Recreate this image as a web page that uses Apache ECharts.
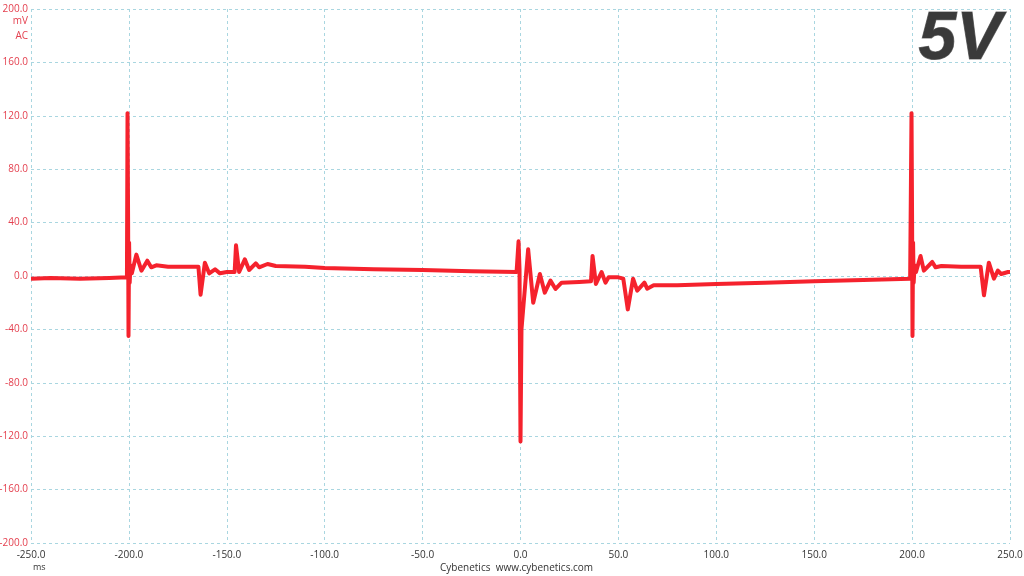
<!DOCTYPE html>
<html><head><meta charset="utf-8">
<script src="https://cdn.jsdelivr.net/npm/echarts@6/dist/echarts.min.js"></script>
<style>html,body{margin:0;padding:0;background:#fff}#c{width:1024px;height:576px}</style>
</head><body><div id="c"></div>
<script>
const timeMs = [-250,-240,-225,-210,-201,-200.7,-200.4,-200.2,-199.9,-199.6,-199.2,-198.5,-196.2,-193.6,-190.6,-188.6,-186,-180,-170,-164.5,-163.4,-161.2,-159,-156,-153.5,-150,-146,-145.3,-143.7,-140.8,-138.6,-135.2,-133.5,-129.2,-125,-110,-100,-75,-50,-25,-2,-1,-0.5,0,0.5,3.9,6.5,9.9,12.4,15.3,17.9,21,30,36,36.8,38.5,41.4,43.4,45,50,52.5,54.8,57.5,59.6,63.3,64.7,68,80,100,125,150,175,199,199.7,200.0,200.2,200.5,200.8,201.3,202,204.3,206,210.3,212,215,225,235,236.7,239.2,241.8,243.8,245.5,249,250];
const rippleMv = [-2,-1.5,-2,-1.5,-1,122,40,-45,25,-5,8,2,16,4,11.5,6.5,8,7,7,7,-14,10,2,5,2,3,3,23,3,12.5,4.5,9.5,6.5,9,7.5,7,6,5,4.5,3.5,3,26,5,-124,-40,20,-20,1.5,-12.5,-3.5,-9.7,-5,-4.5,-4,15,-6,3,-5,-1,-1,-2,-25,-2,-11,-5,-9.5,-7,-7,-6,-5,-4,-3,-2,122,40,-45,25,-5,8,3,15,4,10.5,6.5,7.5,7,7,-14.5,10,-2,4,1.5,3,3];
const xTicks = {min:-250, max:250, step:50};
const yTicks = {min:-200, max:200, step:40};

const chart = echarts.init(document.getElementById('c'), null, {renderer:'canvas'});
const grid = {left:31, right:14, top:9, bottom:33, outerBoundsMode:'none', containLabel:false};
const gridLine = {show:true, lineStyle:{color:'#a9d6e0', type:[3,3], width:1}};
chart.setOption({
  animation:false,
  grid: grid,
  xAxis: {type:'value', min:xTicks.min, max:xTicks.max, interval:xTicks.step,
    axisLine:{show:false}, axisTick:{show:false}, splitLine:gridLine,
    axisLabel:{color:'#333', fontFamily:'Open Sans', fontSize:10, margin:7, formatter:v=>v.toFixed(1)}},
  yAxis: {type:'value', min:yTicks.min, max:yTicks.max, interval:yTicks.step,
    axisLine:{show:false}, axisTick:{show:false}, splitLine:gridLine,
    axisLabel:{color:'#e4404f', fontFamily:'Open Sans', fontSize:10, margin:3, formatter:v=>v.toFixed(1)}},
  series: [{type:'line', data: timeMs.map((t,i)=>[t, rippleMv[i]]), showSymbol:false,
    lineStyle:{color:'#f5222d', width:4, join:'round'}, z:3}],
  graphic: [
    {type:'text', right:996, top:16, style:{text:'mV', fill:'#e4404f', font:'10px "Open Sans"', textAlign:'right'}},
    {type:'text', right:996, top:31, style:{text:'AC', fill:'#e4404f', font:'10px "Open Sans"', textAlign:'right'}},
    {type:'text', left:33, top:563, style:{text:'ms', fill:'#333', font:'9px "Open Sans"'}},
    {type:'text', left:440, top:563, style:{text:'Cybenetics  www.cybenetics.com', fill:'#333', font:'10px "Open Sans"'}},
    {type:'text', left:918, top:6, style:{text:'5V', font:'italic bold 68px "Liberation Sans"',
      fill:'#3a3a3a', stroke:'#777', lineWidth:1,
      shadowColor:'rgba(0,0,0,0.35)', shadowBlur:3, shadowOffsetX:2, shadowOffsetY:2}}
  ]
});
</script></body></html>
